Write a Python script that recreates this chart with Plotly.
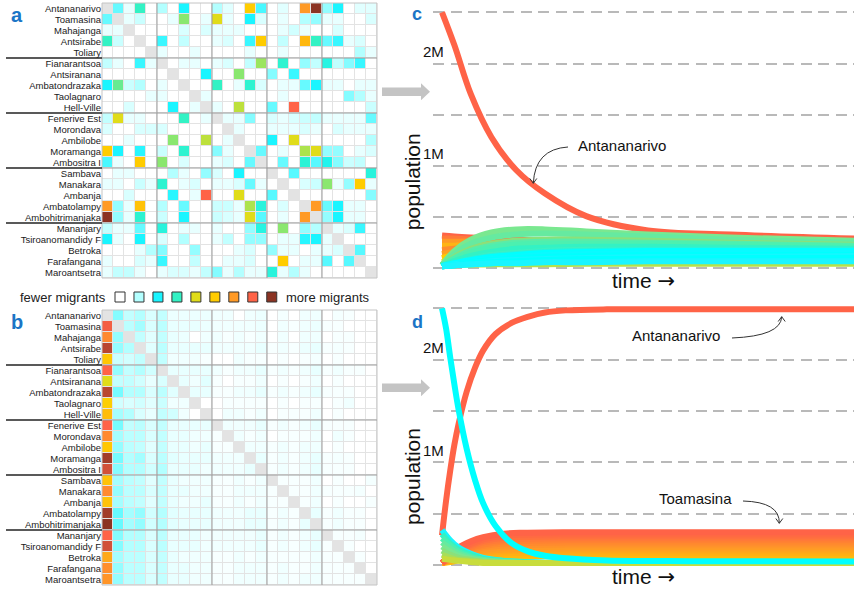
import plotly.graph_objects as go

W, H = 854, 593
FONT = "Liberation Sans, Arial, Helvetica, sans-serif"

cities = ["Antananarivo", "Toamasina", "Mahajanga", "Antsirabe", "Toliary",
          "Fianarantsoa", "Antsiranana", "Ambatondrazaka", "Taolagnaro", "Hell-Ville",
          "Fenerive Est", "Morondava", "Ambilobe", "Moramanga", "Ambositra I",
          "Sambava", "Manakara", "Ambanja", "Ambatolampy", "Ambohitrimanjaka",
          "Mananjary", "Tsiroanomandidy F", "Betroka", "Farafangana", "Maroantsetra"]

# migration intensity, 0 = none ... 8 = most; None on the diagonal (no self-flow)
observed_flows = [
    [None, 1.5, 0.3, 3.0, 0, 1.0, 0, 2.0, 0, 0, 1.0, 0.4, 0, 5.0, 1.7, 0, 0.4, 0, 6.0, 8.0, 1.2, 2.0, 0, 0.4, 0.4],
    [1.5, None, 0.3, 0.7, 0, 0, 0.3, 3.5, 0, 0.3, 4.0, 0.3, 0, 2.0, 0.5, 0, 0.3, 0, 1.0, 1.2, 0.3, 0.3, 0, 0, 0.5],
    [0.3, 0.3, None, 0, 0, 0, 0, 0.5, 0, 0.5, 0.3, 0.3, 0.3, 0, 0, 0, 0.3, 0.6, 0.3, 0, 0, 0.5, 0, 0, 0],
    [3.0, 0.7, 0, None, 0, 1.8, 0, 0.8, 0, 0, 0.3, 0.5, 0, 1.8, 5.0, 0, 0.8, 0, 5.4, 3.0, 1.5, 1.8, 0.3, 0.5, 0],
    [0, 0, 0, 0, None, 0.3, 0, 0, 0.3, 0, 0, 0, 0, 0.3, 0, 0, 0.3, 0, 0, 0, 0, 0, 0, 1.0, 0.3],
    [0.8, 0.3, 0, 1.8, 0.3, None, 0, 0.3, 0.3, 0, 0.3, 0.5, 0, 0.8, 3.6, 0, 2.8, 0, 1.2, 0.8, 2.5, 0.8, 1.3, 1.8, 0],
    [0, 0, 0, 0, 0, 0, None, 0, 0, 2.0, 0, 0, 3.5, 0, 0, 1.3, 0, 1.8, 0, 0, 0, 0, 0, 0, 0],
    [2.0, 3.3, 0.7, 1.0, 0, 0.3, 0, None, 0, 0, 3.0, 0, 0.3, 2.8, 0.5, 0, 0.3, 0.3, 1.5, 2.0, 0.3, 0.3, 0, 0.3, 0.3],
    [0, 0, 0, 0, 0.3, 0.3, 0, 0, None, 0.3, 0, 0, 0, 0, 0, 0, 0.3, 0, 0, 0, 0, 0, 1.3, 1.0, 0.3],
    [0, 0, 0.5, 0, 0, 0, 2.0, 0, 0.3, None, 0.3, 0, 3.8, 0, 0, 1.5, 0, 7.0, 0, 0, 0, 0, 0, 0, 0.7],
    [0.8, 4.0, 0.3, 0.3, 0, 0, 0, 3.0, 0, 0.3, None, 0.3, 0.3, 1.3, 0, 0.5, 0.3, 0.5, 0.7, 0.8, 0.3, 0.3, 0.3, 0.3, 1.5],
    [0.5, 0, 0, 0.5, 0.5, 0.5, 0, 0, 0, 0, 0, None, 0.3, 0, 0, 0.3, 0.3, 0.3, 0.5, 0.3, 0, 0.5, 0.3, 0.3, 0.3],
    [0, 0, 0.3, 0, 0, 0, 3.5, 0, 0, 3.8, 0, 0.3, None, 0, 0, 2.0, 0, 4.0, 0, 0, 0, 0, 0, 0, 1.0],
    [5.0, 2.0, 0, 1.9, 0, 0.7, 0, 2.8, 0, 0, 1.3, 0.3, 0, None, 1.5, 0, 0.3, 0, 3.7, 4.0, 1.2, 1.2, 0, 0.3, 0.5],
    [1.7, 0.3, 0, 5.0, 0, 3.5, 0, 0.5, 0, 0, 0.3, 0.5, 0, 1.5, None, 0, 1.5, 0, 2.7, 1.6, 2.3, 1.3, 0.7, 0.8, 0],
    [0, 0.3, 0.3, 0, 0, 0, 1.0, 0.3, 0, 1.2, 0.5, 0, 2.0, 0, 0, None, 0, 1.6, 0, 0, 0, 0, 0, 0, 2.6],
    [0.3, 0.3, 0, 0.7, 0.3, 2.8, 0, 0.3, 0.5, 0, 0.3, 0.3, 0.5, 1.5, 0.3, 0, None, 0, 0.5, 0.7, 3.5, 0.3, 1.2, 5.0, 0.3],
    [0, 0, 0.5, 0, 0, 0, 1.9, 0, 0.3, 7.0, 0, 0, 4.0, 0, 0, 1.6, 0, None, 0, 0, 0, 0, 0, 0, 1.3],
    [6.0, 1.2, 0.3, 5.2, 0, 1.0, 0, 1.5, 0, 0, 0.7, 0.7, 0.3, 3.7, 2.6, 0, 0.5, 0, None, 6.0, 1.5, 2.0, 0.3, 0.3, 0],
    [8.0, 1.2, 0.3, 2.8, 0, 0.7, 0, 2.0, 0, 0, 0.7, 0.5, 0.3, 4.0, 1.6, 0, 0.3, 0, 6.0, None, 1.2, 2.0, 0.3, 0.3, 0],
    [0.8, 0.3, 0.3, 1.5, 0, 2.6, 0, 0.3, 0.3, 0, 0.3, 0, 0, 1.2, 2.5, 0, 3.5, 0, 1.2, 1.0, None, 0.3, 0.5, 1.8, 0],
    [2.0, 0.3, 0, 2.0, 0, 0.5, 0, 1.0, 0, 0, 0.3, 0.8, 0, 1.2, 1.2, 0, 0.3, 0.3, 1.9, 2.0, 0.3, None, 0, 0, 0],
    [0, 0, 0, 0.3, 1.0, 1.3, 0, 0, 1.2, 0, 0, 0, 0.3, 0.5, 0, 1.2, 0.3, 0.3, 0, 0.3, 0.3, 0.5, None, 1.6, 0],
    [0.3, 0, 0, 0.5, 0.3, 1.8, 0, 0, 0.8, 0, 0, 0.3, 0.3, 0.5, 0, 0, 5.0, 0, 0.3, 0.3, 1.6, 0, 1.6, None, 0],
    [0.3, 0.8, 0.8, 0.3, 0, 0.3, 0.5, 0.5, 0.3, 0.8, 1.3, 0.3, 1.0, 0.3, 0.3, 2.6, 0.3, 1.0, 0.3, 0, 0, 0, 0, 0, None],
]

model_flows = [
    [None, 1.3, 0.8, 1.0, 0.5, 0.8, 0.25, 0.25, 0.25, 0.25, 0.2, 0.2, 0, 0.2, 0.25, 0, 0.15, 0, 0.2, 0.2, 0, 0.15, 0.1, 0, 0],
    [7.1, None, 0.9, 1.1, 0.5, 0.9, 0.3, 0.3, 0.3, 0.25, 0.2, 0.2, 0.2, 0.2, 0.25, 0, 0.2, 0.1, 0.2, 0.25, 0.1, 0.1, 0, 0, 0],
    [6.3, 1.2, None, 0.8, 0.4, 0.8, 0.3, 0.25, 0, 0.2, 0.2, 0.1, 0.2, 0.1, 0.2, 0, 0.2, 0, 0.2, 0.2, 0, 0.1, 0.1, 0, 0],
    [7.6, 1.2, 1.0, None, 0.4, 0.9, 0.3, 0.3, 0.3, 0.3, 0.2, 0.2, 0.2, 0.2, 0.3, 0.1, 0.2, 0.1, 0.25, 0.3, 0.1, 0.15, 0.1, 0, 0],
    [5.1, 0.7, 0.6, 0.8, None, 0.8, 0.2, 0.2, 0.2, 0.1, 0, 0, 0.2, 0.1, 0.1, 0, 0.1, 0, 0.1, 0.15, 0, 0.1, 0, 0, 0],
    [7.0, 1.2, 0.8, 1.0, 0.6, None, 0.3, 0.3, 0.3, 0.3, 0.2, 0.1, 0.2, 0.2, 0.3, 0.1, 0.2, 0.1, 0.2, 0.3, 0.1, 0.2, 0.1, 0.1, 0],
    [4.0, 0.8, 0.8, 0.6, 0.3, 0.5, None, 0.3, 0.2, 0.4, 0.1, 0, 0.1, 0.1, 0.2, 0, 0.1, 0, 0.1, 0.2, 0, 0.1, 0, 0, 0],
    [7.6, 1.4, 1.0, 1.0, 0.5, 0.9, 0.4, None, 0.3, 0.3, 0.1, 0.1, 0.2, 0.2, 0.3, 0.1, 0.2, 0.1, 0.2, 0.3, 0.1, 0.1, 0.1, 0, 0],
    [4.9, 0.6, 0.5, 0.6, 0.4, 0.7, 0.2, 0.2, None, 0, 0, 0.1, 0.1, 0.1, 0.1, 0, 0.1, 0, 0.1, 0.1, 0, 0.1, 0.2, 0, 0],
    [5.3, 1.1, 1.0, 0.5, 0.3, 0.8, 0.6, 0.2, 0, None, 0, 0.2, 0.2, 0.1, 0.2, 0, 0.1, 0.1, 0.1, 0.2, 0, 0.1, 0, 0, 0],
    [7.0, 1.4, 0.8, 0.9, 0.5, 0.8, 0.3, 0.3, 0.3, 0.3, None, 0.2, 0.2, 0.2, 0.3, 0.1, 0.2, 0.1, 0.2, 0.3, 0.1, 0.1, 0.1, 0, 0],
    [6.3, 1.1, 0.9, 0.9, 0.5, 0.8, 0.3, 0.3, 0.2, 0.2, 0.1, None, 0.2, 0.1, 0.2, 0, 0.1, 0.1, 0.1, 0.2, 0, 0.2, 0.1, 0, 0],
    [5.1, 1.2, 0.9, 0.8, 0.4, 0.8, 0.3, 0.3, 0.2, 0.3, 0.1, 0.1, None, 0.2, 0.2, 0.1, 0.2, 0.1, 0.2, 0.2, 0, 0.1, 0, 0, 0],
    [7.8, 1.4, 1.0, 1.1, 0.5, 0.9, 0.4, 0.3, 0.3, 0.3, 0.2, 0.2, 0.2, None, 0.3, 0.1, 0.2, 0.1, 0.2, 0.3, 0.1, 0.15, 0.1, 0, 0],
    [7.4, 1.3, 1.0, 1.0, 0.6, 1.0, 0.3, 0.3, 0.3, 0.2, 0.2, 0.2, 0.2, 0.3, None, 0.1, 0.2, 0.1, 0.2, 0.3, 0.1, 0.1, 0.1, 0, 0],
    [5.2, 1.1, 0.9, 0.8, 0.4, 0.8, 0.3, 0.2, 0.2, 0.2, 0.1, 0.1, 0.2, 0.1, 0.2, None, 0.1, 0.1, 0.1, 0.2, 0, 0.1, 0, 0, 0.15],
    [6.3, 1.2, 0.9, 0.9, 0.5, 0.8, 0.3, 0.3, 0.2, 0.2, 0.1, 0.1, 0.2, 0.2, 0.2, 0.1, None, 0.1, 0.1, 0.2, 0.1, 0.1, 0.1, 0.15, 0],
    [5.2, 1.1, 0.9, 0.8, 0.4, 0.8, 0.3, 0.2, 0.2, 0.3, 0.1, 0.1, 0.2, 0.1, 0.2, 0.1, 0.1, None, 0.1, 0.2, 0, 0.1, 0, 0, 0.1],
    [7.8, 1.5, 1.1, 1.2, 0.6, 1.0, 0.4, 0.3, 0.3, 0.3, 0.2, 0.2, 0.2, 0.3, 0.3, 0.1, 0.2, 0.1, None, 0.3, 0.1, 0.2, 0.1, 0.1, 0],
    [8.0, 1.5, 1.1, 1.2, 0.6, 1.0, 0.4, 0.3, 0.3, 0.3, 0.2, 0.2, 0.2, 0.3, 0.3, 0.1, 0.2, 0.1, 0.3, None, 0.1, 0.2, 0.1, 0.1, 0],
    [7.0, 1.3, 1.0, 1.0, 0.5, 0.9, 0.3, 0.3, 0.3, 0.2, 0.2, 0.2, 0.2, 0.2, 0.3, 0.1, 0.2, 0.1, 0.2, 0.3, None, 0.1, 0.1, 0.15, 0],
    [7.4, 1.3, 1.0, 1.0, 0.5, 0.9, 0.3, 0.3, 0.3, 0.2, 0.2, 0.2, 0.2, 0.2, 0.3, 0.1, 0.2, 0.1, 0.2, 0.3, 0.1, None, 0.1, 0, 0],
    [5.7, 1.1, 0.9, 0.9, 0.5, 0.8, 0.3, 0.2, 0.2, 0.2, 0.1, 0.1, 0.2, 0.1, 0.2, 0.1, 0.1, 0.1, 0.1, 0.2, 0.1, 0.1, None, 0.1, 0],
    [6.2, 1.2, 0.9, 0.9, 0.5, 0.8, 0.3, 0.3, 0.2, 0.2, 0.1, 0.1, 0.2, 0.2, 0.2, 0.1, 0.2, 0.1, 0.1, 0.2, 0.1, 0.1, 0.1, None, 0],
    [6.1, 1.2, 0.9, 0.9, 0.5, 0.8, 0.3, 0.3, 0.2, 0.2, 0.1, 0.1, 0.2, 0.2, 0.2, 0.1, 0.2, 0.1, 0.2, 0.2, 0.1, 0.1, 0.1, 0.1, None],
]

level_colors = ["#ffffff", "#b3ffff", "#1af5ff", "#33f2c4", "#e0dc1a",
                "#ffcc00", "#ff9a26", "#ff6347", "#8b3323"]

# population trajectories, in millions
t_c = [0, 3, 7, 12, 18, 25, 35, 50, 70, 100]
antananarivo_c = [2.50, 2.18, 1.70, 1.28, 0.96, 0.73, 0.51, 0.37, 0.33, 0.29]
others_c = [
    [0.32, 0.31, 0.30, 0.29, 0.28, 0.27, 0.26, 0.24, 0.22, 0.20],
    [0.29, 0.29, 0.28, 0.28, 0.27, 0.26, 0.25, 0.23, 0.21, 0.19],
    [0.26, 0.26, 0.26, 0.25, 0.25, 0.24, 0.23, 0.22, 0.20, 0.18],
    [0.22, 0.22, 0.23, 0.23, 0.23, 0.23, 0.22, 0.21, 0.19, 0.17],
    [0.18, 0.19, 0.21, 0.22, 0.22, 0.22, 0.21, 0.20, 0.18, 0.16],
    [0.14, 0.16, 0.18, 0.20, 0.21, 0.21, 0.20, 0.19, 0.18, 0.16],
    [0.10, 0.13, 0.16, 0.18, 0.19, 0.19, 0.19, 0.18, 0.17, 0.15],
    [0.06, 0.09, 0.12, 0.14, 0.15, 0.16, 0.16, 0.16, 0.15, 0.14],
    [0.02, 0.03, 0.035, 0.04, 0.04, 0.04, 0.045, 0.045, 0.045, 0.045],
    [0.03, 0.17, 0.28, 0.35, 0.38, 0.38, 0.36, 0.33, 0.30, 0.27],
    [0.03, 0.14, 0.24, 0.30, 0.33, 0.34, 0.33, 0.31, 0.28, 0.25],
    [0.03, 0.11, 0.19, 0.24, 0.27, 0.28, 0.28, 0.27, 0.25, 0.23],
    [0.03, 0.10, 0.17, 0.22, 0.25, 0.26, 0.26, 0.25, 0.24, 0.22],
    [0.02, 0.09, 0.15, 0.20, 0.23, 0.24, 0.24, 0.24, 0.23, 0.21],
    [0.02, 0.07, 0.12, 0.16, 0.19, 0.20, 0.21, 0.21, 0.20, 0.19],
    [0.02, 0.05, 0.09, 0.13, 0.15, 0.17, 0.18, 0.18, 0.18, 0.17],
    [0.02, 0.05, 0.09, 0.12, 0.14, 0.16, 0.17, 0.18, 0.18, 0.18],
    [0.02, 0.05, 0.08, 0.11, 0.13, 0.15, 0.16, 0.17, 0.17, 0.17],
    [0.02, 0.04, 0.07, 0.09, 0.11, 0.13, 0.14, 0.15, 0.15, 0.15],
    [0.02, 0.04, 0.06, 0.08, 0.10, 0.11, 0.12, 0.13, 0.13, 0.13],
    [0.02, 0.04, 0.05, 0.07, 0.08, 0.09, 0.10, 0.11, 0.11, 0.12],
    [0.02, 0.03, 0.05, 0.06, 0.07, 0.08, 0.09, 0.09, 0.10, 0.10],
    [0.02, 0.03, 0.04, 0.05, 0.06, 0.07, 0.07, 0.08, 0.08, 0.09],
    [0.02, 0.03, 0.04, 0.05, 0.05, 0.06, 0.06, 0.07, 0.07, 0.07],
]
others_c_colors = ["#ff6347", "#ff7a3a", "#ff9a26", "#ffb414", "#ff8c2e", "#ffa020",
                   "#ffcc00", "#e0dc1a", "#b8e048", "#7ae890", "#66eaa0", "#8ce07a",
                   "#5aeca8", "#4cf0b0", "#33f2c4", "#40f0c0", "#2af2d8", "#00ffff",
                   "#0afaff", "#00ffff", "#14f8ff", "#00ffff", "#00ffff", "#1af5ff"]

t_fast = [0, 1, 2, 3, 4, 6, 8, 10, 13, 17, 21, 25, 30, 40, 60, 100]
antananarivo_d = [0.29, 0.63, 0.92, 1.17, 1.37, 1.69, 1.92, 2.09, 2.25, 2.36,
                  2.42, 2.46, 2.48, 2.49, 2.49, 2.49]
emptying_city_d = [2.50, 2.30, 2.02, 1.76, 1.52, 1.13, 0.83, 0.60, 0.38, 0.21,
                   0.13, 0.09, 0.065, 0.045, 0.037, 0.035]

t_d = [0, 2, 4, 7, 10, 15, 20, 30, 50, 100]
growing_d = [
    [0.02, 0.03, 0.045, 0.06, 0.07, 0.08, 0.085, 0.085, 0.085, 0.085],
    [0.02, 0.035, 0.05, 0.07, 0.085, 0.095, 0.10, 0.10, 0.10, 0.10],
    [0.02, 0.04, 0.06, 0.085, 0.10, 0.115, 0.12, 0.12, 0.12, 0.12],
    [0.02, 0.045, 0.07, 0.10, 0.12, 0.135, 0.14, 0.14, 0.14, 0.14],
    [0.02, 0.05, 0.08, 0.11, 0.135, 0.15, 0.155, 0.16, 0.16, 0.16],
    [0.02, 0.055, 0.09, 0.125, 0.15, 0.17, 0.175, 0.18, 0.18, 0.18],
    [0.02, 0.06, 0.10, 0.14, 0.17, 0.19, 0.195, 0.20, 0.20, 0.20],
    [0.02, 0.065, 0.11, 0.155, 0.185, 0.21, 0.215, 0.22, 0.22, 0.22],
    [0.02, 0.07, 0.12, 0.17, 0.20, 0.23, 0.235, 0.24, 0.24, 0.24],
    [0.02, 0.08, 0.13, 0.18, 0.22, 0.245, 0.255, 0.26, 0.26, 0.26],
    [0.02, 0.085, 0.14, 0.195, 0.235, 0.265, 0.275, 0.28, 0.28, 0.28],
    [0.02, 0.09, 0.15, 0.21, 0.25, 0.285, 0.295, 0.30, 0.30, 0.30],
    [0.02, 0.10, 0.17, 0.23, 0.27, 0.305, 0.315, 0.32, 0.32, 0.32],
]
growing_d_colors = ["#ffc00a", "#ffb80e", "#ffb014", "#ffa81a", "#ffa020", "#ff9a26",
                    "#ff922a", "#ff8a2e", "#ff8232", "#ff7a38", "#ff713e", "#ff6a42", "#ff6347"]
shrinking_d = [
    [0.34, 0.24, 0.17, 0.11, 0.07, 0.04, 0.03, 0.02, 0.02, 0.02],
    [0.30, 0.21, 0.15, 0.10, 0.06, 0.04, 0.03, 0.02, 0.02, 0.02],
    [0.26, 0.19, 0.13, 0.08, 0.05, 0.03, 0.02, 0.02, 0.02, 0.02],
    [0.22, 0.16, 0.11, 0.07, 0.05, 0.03, 0.02, 0.02, 0.02, 0.02],
    [0.18, 0.13, 0.09, 0.06, 0.04, 0.03, 0.02, 0.02, 0.02, 0.02],
    [0.14, 0.10, 0.07, 0.05, 0.03, 0.02, 0.02, 0.02, 0.02, 0.02],
    [0.10, 0.07, 0.05, 0.04, 0.03, 0.02, 0.02, 0.02, 0.02, 0.02],
    [0.06, 0.05, 0.04, 0.03, 0.02, 0.02, 0.02, 0.02, 0.02, 0.02],
]
shrinking_d_colors = ["#1af5ff", "#33f2c4", "#4cf0b0", "#66eaa0", "#7ae890",
                      "#8ce07a", "#a8de5a", "#c8dc3c"]


def px(x):
    return x / W


def py(y):
    return 1 - y / H


colorscale = [[i / 8, c] for i, c in enumerate(level_colors)]
fig = go.Figure()

# heatmaps
for z, xa, ya in [(observed_flows, "x", "y"), (model_flows, "x2", "y2")]:
    fig.add_trace(go.Heatmap(z=z, x=list(range(25)), y=cities, colorscale=colorscale,
                             zmin=0, zmax=8, showscale=False, xgap=1, ygap=1,
                             xaxis=xa, yaxis=ya, hoverinfo="skip"))

# legend swatches
fig.add_trace(go.Scatter(x=list(range(9)), y=[0] * 9, mode="markers",
                         marker=dict(symbol="square", size=10, color=level_colors,
                                     line=dict(color="#333333", width=1)),
                         xaxis="x5", yaxis="y5", hoverinfo="skip"))


def line(x, y, color, xa, ya):
    return go.Scatter(x=x, y=y, mode="lines", xaxis=xa, yaxis=ya, hoverinfo="skip",
                      line=dict(color=color, width=6, shape="spline", smoothing=1))


# panel c
fig.add_trace(line(t_c, antananarivo_c, "#ff6347", "x3", "y3"))
for vals, col in zip(others_c, others_c_colors):
    fig.add_trace(line(t_c, vals, col, "x3", "y3"))

# panel d
for vals, col in zip(growing_d, growing_d_colors):
    fig.add_trace(line(t_d, vals, col, "x4", "y4"))
fig.add_trace(line(t_fast, antananarivo_d, "#ff6347", "x4", "y4"))
for vals, col in zip(shrinking_d, shrinking_d_colors):
    fig.add_trace(line(t_d, vals, col, "x4", "y4"))
fig.add_trace(line(t_fast, emptying_city_d, "#00ffff", "x4", "y4"))

hm_x = dict(showticklabels=False, showgrid=False, zeroline=False, range=[-0.5, 24.5],
            fixedrange=True, domain=[px(102), px(377)])
hm_y = dict(type="category", range=[24.5, -0.5], showgrid=False, zeroline=False,
            ticks="", tickfont=dict(size=9.5, color="#1a1a1a"))
ln_x = dict(range=[-2.184, 100], visible=False, domain=[px(433), 1])
ln_y = dict(showticklabels=False, zeroline=False, showgrid=True, tick0=0, dtick=0.5,
            gridcolor="#b9b9b9", gridwidth=2, griddash="11px,6.5px")

fig.update_layout(
    width=W, height=H, margin=dict(l=0, r=0, t=0, b=0),
    paper_bgcolor="white", plot_bgcolor="rgba(0,0,0,0)", showlegend=False,
    font=dict(family=FONT, color="#111111"),
    xaxis=dict(**hm_x, anchor="y"),
    yaxis=dict(**hm_y, domain=[py(278), py(3)], anchor="x"),
    xaxis2=dict(**hm_x, anchor="y2"),
    yaxis2=dict(**hm_y, domain=[py(585), py(310)], anchor="x2"),
    xaxis3=dict(**ln_x, anchor="y3"),
    yaxis3=dict(**ln_y, domain=[py(275), py(5)], range=[-0.0654, 2.5713], anchor="x3"),
    xaxis4=dict(**ln_x, anchor="y4"),
    yaxis4=dict(**ln_y, domain=[py(572), py(300)], range=[-0.0682, 2.5811], anchor="x4"),
    xaxis5=dict(domain=[px(110), px(282)], range=[-0.527, 8.54], visible=False, anchor="y5"),
    yaxis5=dict(domain=[py(307), py(287)], range=[-1, 1], visible=False, anchor="x5"),
)

shapes = []
for top in (3, 310):
    # light grey under the heatmap shows through the cell gaps and the empty diagonal
    shapes.append(dict(type="rect", xref="paper", yref="paper", layer="below",
                       x0=px(102), x1=px(377), y0=py(top + 275), y1=py(top),
                       fillcolor="#e3e3e3", line=dict(width=0)))
    shapes.append(dict(type="rect", xref="paper", yref="paper",
                       x0=px(102), x1=px(377), y0=py(top + 275), y1=py(top),
                       line=dict(color="#c4c4c4", width=1)))
    for k in range(1, 5):
        xk = 102 + 55 * k
        yk = top + 55 * k
        shapes.append(dict(type="line", xref="paper", yref="paper",
                           x0=px(xk), x1=px(xk), y0=py(top + 275), y1=py(top),
                           line=dict(color="#9c9c9c", width=1)))
        shapes.append(dict(type="line", xref="paper", yref="paper",
                           x0=px(102), x1=px(377), y0=py(yk), y1=py(yk),
                           line=dict(color="#9c9c9c", width=1)))
        shapes.append(dict(type="line", xref="paper", yref="paper",
                           x0=px(6), x1=px(102), y0=py(yk), y1=py(yk),
                           line=dict(color="#222222", width=1.5)))

# grey arrows between the matrices and the trajectories
for cy in (91.7, 387.7):
    pts = [(382, cy - 4.3), (421, cy - 4.3), (421, cy - 8.5), (430, cy),
           (421, cy + 8.5), (421, cy + 4.3), (382, cy + 4.3)]
    path = "M " + " L ".join(f"{px(x):.5f},{py(y):.5f}" for x, y in pts) + " Z"
    shapes.append(dict(type="path", xref="paper", yref="paper", path=path,
                       fillcolor="#c4c4c4", line=dict(width=0)))


def curve(p0, c, p1, head):
    d = (f"M {px(p0[0]):.5f},{py(p0[1]):.5f} Q {px(c[0]):.5f},{py(c[1]):.5f} "
         f"{px(p1[0]):.5f},{py(p1[1]):.5f}")
    h = " L ".join(f"{px(x):.5f},{py(y):.5f}" for x, y in head)
    return [dict(type="path", xref="paper", yref="paper", path=d,
                 line=dict(color="#333333", width=1)),
            dict(type="path", xref="paper", yref="paper", path="M " + h,
                 line=dict(color="#333333", width=1))]


shapes += curve((568, 147), (535, 149), (533.3, 183.3),
                [(529.8, 178.5), (533.3, 183.3), (536.8, 178.5)])
shapes += curve((732, 338), (781, 336), (781.7, 316.7),
                [(778.2, 321.5), (781.7, 316.7), (785.2, 321.5)])
shapes += curve((743, 501), (780, 502), (779.3, 523.3),
                [(775.8, 518.5), (779.3, 523.3), (782.8, 518.5)])

fig.update_layout(shapes=shapes)


def note(text, x, y, size, xanchor="center", color="#111111", **kw):
    return dict(text=text, x=px(x), y=py(y), xref="paper", yref="paper",
                xanchor=xanchor, yanchor="middle", showarrow=False,
                font=dict(size=size, color=color), **kw)


ann = []
blue = "#1b75c6"
for txt, x, y, s in [("a", 17, 15, 20), ("b", 17, 322, 20), ("c", 417, 14, 18), ("d", 417, 322, 18)]:
    ann.append(note(f"<b>{txt}</b>", x, y, s, color=blue))

ann.append(note("fewer migrants", 108, 297, 13, xanchor="right", color="#222222"))
ann.append(note("more migrants", 284, 297, 13, xanchor="left", color="#222222"))

arrow_glyph = '<span style="font-family:DejaVu Sans">→</span>'
for ya, pop_y, time_y in [("y3", 181.7, 281), ("y4", 476.5, 577)]:
    for val, lab in [(2, "2M"), (1, "1M")]:
        ann.append(dict(text=lab, x=px(446), y=val, xref="paper", yref=ya, xanchor="right",
                        yanchor="middle", yshift=12, showarrow=False,
                        font=dict(size=15, color="#111111")))
    ann.append(note("population", 412.5, pop_y, 21, textangle=-90))
    ann.append(note("time " + arrow_glyph, 643, time_y, 21))

ann.append(note("Antananarivo", 576, 145, 15, xanchor="left"))
ann.append(note("Antananarivo", 630, 335.5, 15, xanchor="left"))
ann.append(note("Toamasina", 657, 498.5, 15, xanchor="left"))

fig.update_layout(annotations=ann)

fig.write_html("out.html")
